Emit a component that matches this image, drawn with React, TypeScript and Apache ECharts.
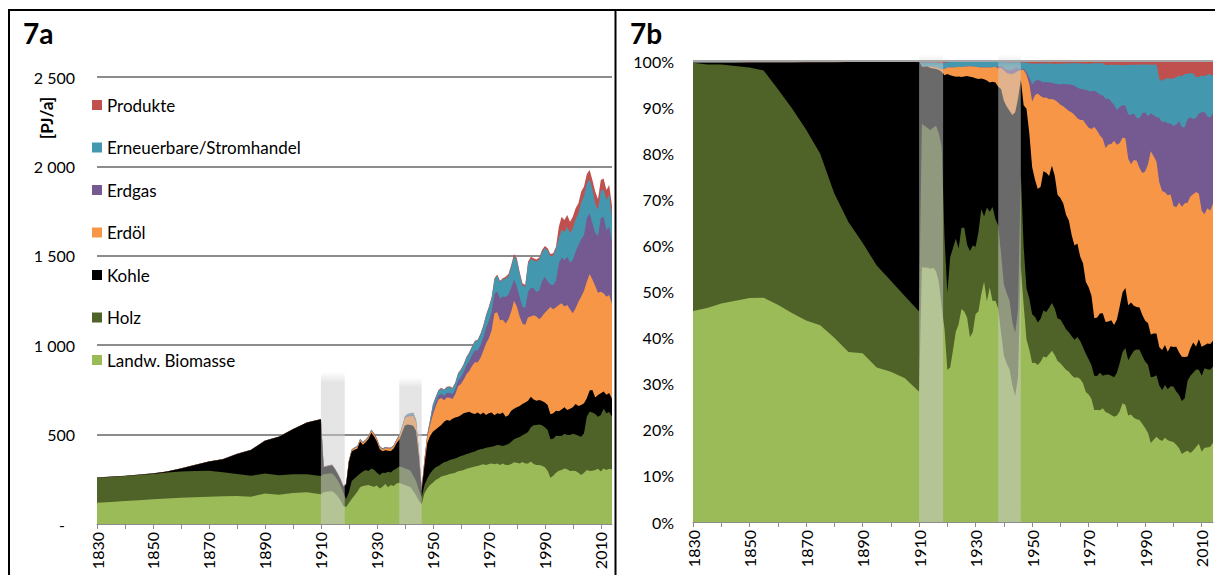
import React, { useEffect, useRef } from 'react';
import * as echarts from 'echarts';

// ---------- data (PJ/a) ----------
const EARLY_YEARS = [1830, 1835, 1840, 1845, 1850, 1855, 1860, 1865, 1870, 1875, 1880, 1885, 1890, 1895, 1900, 1905, 1910];
const YEARLY: number[] = [];
for (let y = 1911; y <= 2014; y++) YEARLY.push(y);
const YEARS = [...EARLY_YEARS, ...YEARLY];

const TICK_YEARS = [1830, 1840, 1850, 1860, 1870, 1880, 1890, 1900, 1910, 1920, 1930, 1940, 1950, 1960, 1970, 1980, 1990, 2000, 2010];
const LABEL_YEARS = [1830, 1850, 1870, 1890, 1910, 1930, 1950, 1970, 1990, 2010];
const Y_TICKS_ABS = [0, 500, 1000, 1500, 2000, 2500];

const LANDW = [
  119, 123, 128, 133, 138, 143, 147, 150, 153, 155, 157, 153, 171, 164, 173, 177, 166,
  178, 180, 182, 183, 172, 155, 132, 100,
  95, 118, 140, 160, 180, 205, 212, 216, 218, 212, 209, 216, 199, 209, 224, 205, 218, 212, 227, 231,
  224, 218, 212, 205, 185, 160, 130, 110,
  172, 199, 218, 231,
  246, 255, 265, 270, 274, 280, 283, 287, 295, 298, 302, 309, 313, 317, 321, 324, 330, 334, 330, 336, 339, 334, 339, 330, 339,
  330, 330, 336, 345, 343, 339, 347, 339, 339, 349, 336, 330, 330, 326, 317, 298, 259, 270, 287, 298, 302, 311, 306, 296, 298, 296, 287, 274, 287, 302, 296, 298, 302, 309, 293, 311, 302, 309, 306,
];
const HOLZ = [
  140, 140, 140, 141, 142, 145, 146, 147, 145, 135, 123, 117, 112, 108, 105, 101, 102,
  100, 100, 100, 100, 95, 90, 82, 75,
  45, 60, 100, 95, 88, 78, 81, 86, 78, 99, 95, 70, 75, 78, 61, 87, 70, 90, 84, 90,
  93, 93, 94, 93, 85, 80, 60, 40,
  46, 56, 65, 71,
  71, 69, 71, 75, 76, 78, 79, 80, 78, 82, 82, 82, 82, 84, 84, 90, 88, 87, 97, 93, 93, 102, 103, 110, 97,
  112, 117, 124, 129, 138, 148, 149, 166, 176, 192, 216, 224, 227, 226, 224, 228, 215, 207, 207, 194, 190, 194, 192, 202, 207, 204, 207, 214, 220, 298, 332, 325, 313, 291, 317, 334, 317, 317, 294,
];
const KOHLE = [
  0, 1, 1, 2, 3, 5, 18, 33, 51, 72, 112, 144, 183, 216, 252, 289, 318,
  40, 42, 44, 45, 40, 35, 35, 35,
  80, 170, 165, 160, 153, 178, 150, 155, 180, 200, 185, 175, 145, 120, 128, 118, 120, 120, 140, 150,
  195, 240, 250, 255, 280, 280, 190, 40,
  112, 196, 209, 214,
  212, 217, 218, 227, 232, 220, 227, 228, 227, 228, 235, 232, 233, 218, 210, 209, 195, 202, 183, 190, 191, 172, 177, 175, 187,
  158, 161, 174, 171, 172, 173, 175, 174, 175, 171, 145, 136, 137, 136, 138, 140, 140, 142, 140, 138, 149, 148, 140, 147, 148, 171, 166, 178, 168, 103, 118, 126, 93, 121, 121, 96, 104, 106, 100,
];
const ERDOEL = [
  0, 0, 0, 0, 0, 0, 0, 0, 0, 0, 0, 0, 0, 0, 0, 0, 0,
  0, 0, 0, 1, 1, 1, 1, 1,
  3, 5, 7, 8, 9, 10, 10, 10, 10, 12, 12, 12, 11, 10, 11, 12, 14, 14, 16, 20,
  25, 40, 45, 50, 55, 50, 25, 4,
  28, 37, 62, 95,
  130, 155, 150, 120, 125, 128, 110, 130, 170, 175, 188, 215, 228, 265, 290, 280, 315, 345, 400, 420, 460, 570, 565, 525, 520,
  522, 537, 554, 604, 563, 500, 451, 434, 466, 448, 470, 470, 451, 472, 503, 531, 600, 582, 578, 595, 593, 563, 587, 556, 525, 535, 583, 605, 630, 652, 652, 619, 623, 573, 568, 549, 548, 549, 530,
];
const ERDGAS = [
  0, 0, 0, 0, 0, 0, 0, 0, 0, 0, 0, 0, 0, 0, 0, 0, 0,
  0, 0, 0, 0, 0, 0, 0, 0,
  0, 0, 0, 0, 0, 0, 0, 0, 0, 0, 0, 0, 0, 0, 0, 0, 0, 0, 0, 2,
  2, 3, 4, 5, 6, 6, 3, 0,
  1, 3, 8, 25,
  22, 22, 25, 25, 26, 28, 27, 28, 33, 38, 44, 50, 55, 60, 65, 68, 72, 74, 87, 97, 104, 108, 116, 121, 129,
  147, 139, 133, 117, 112, 110, 95, 95, 141, 161, 150, 137, 161, 198, 200, 160, 125, 135, 150, 233, 257, 261, 270, 261, 299, 317, 317, 321, 311, 355, 340, 314, 298, 317, 411, 429, 373, 382, 350,
];
const ERNEUERBARE = [
  1, 1, 1, 1, 1, 1, 1, 1, 1, 1, 1, 1, 1, 1, 1, 1, 1,
  3, 3, 3, 3, 3, 3, 3, 3,
  3, 4, 5, 5, 5, 5, 5, 5, 5, 5, 5, 5, 5, 5, 5, 5, 5, 5, 5, 5,
  5, 8, 10, 10, 10, 8, 5, 3,
  5, 10, 18, 30,
  27, 27, 29, 31, 31, 32, 32, 34, 37, 39, 39, 42, 44, 46, 50, 55, 58, 62, 66, 72, 76, 82, 88, 92, 96,
  102, 102, 116, 132, 146, 129, 117, 117, 158, 162, 157, 171, 173, 162, 161, 173, 159, 166, 177, 140, 153, 158, 168, 164, 177, 181, 178, 205, 218, 192, 190, 190, 164, 145, 154, 150, 168, 180, 140,
];
const PRODUKTE = [
  0, 0, 0, 0, 0, 0, 0, 0, 0, 0, 0, 0, 0, 0, 0, 0, 0,
  1, 1, 1, 1, 1, 1, 1, 1,
  1, 1, 1, 1, 1, 1, 1, 1, 1, 1, 1, 1, 1, 1, 1, 1, 1, 1, 1, 1,
  1, 1, 2, 2, 2, 1, 1, 1,
  1, 2, 3, 4,
  4, 4, 4, 4, 4, 4, 4, 5, 5, 5, 5, 5, 5, 5, 5, 5, 6, 6, 7, 7, 7, 7, 7, 7, 7,
  12, 12, 12, 12, 12, 12, 12, 12, 12, 12, 12, 12, 12, 12, 12, 12, 12, 12, 12, 65, 75, 65, 65, 65, 65, 62, 56, 62, 53, 55, 52, 52, 66, 62, 60, 64, 56, 53, 60,
];

// war periods (shaded)
const WAR_PERIODS = [
  [1910, 1918.5],
  [1938, 1946],
];
const WAR_TOP_ABS = [850, 820];

// bottom -> top
const SERIES_NAMES = ['Landw. Biomasse', 'Holz', 'Kohle', 'Erdöl', 'Erdgas', 'Erneuerbare/Stromhandel', 'Produkte'];
const SERIES_VALUES = [LANDW, HOLZ, KOHLE, ERDOEL, ERDGAS, ERNEUERBARE, PRODUKTE];
const COLORS = ['#9BBB59', '#4F6228', '#000000', '#F79646', '#755A91', '#4398AF', '#C0504D'];

const FONT = 'Lato, "Noto Sans", "DejaVu Sans", sans-serif';

function fmtAbs(v: number): string {
  if (v === 0) return '{d|-}';
  if (v >= 1000) return `${Math.floor(v / 1000)} ${String(v % 1000).padStart(3, '0')}`;
  return String(v);
}

export default function App() {
  const ref = useRef<HTMLDivElement>(null);
  useEffect(() => {
    if (!ref.current) return;
    const chart = echarts.init(ref.current, undefined, { renderer: 'svg' });

    const n = YEARS.length;
    const totals = YEARS.map((_, i) => SERIES_VALUES.reduce((s, arr) => s + arr[i], 0));
    // cumulative tops (stacked from the bottom)
    const cumAbs: number[][] = [];
    const cumShare: number[][] = [];
    SERIES_VALUES.forEach((arr, k) => {
      const a: number[] = [];
      const s: number[] = [];
      for (let i = 0; i < n; i++) {
        const prev = k > 0 ? cumAbs[k - 1][i] : 0;
        a.push(prev + arr[i]);
        s.push(((prev + arr[i]) / totals[i]) * 100);
      }
      cumAbs.push(a);
      cumShare.push(s);
    });

    const barFill = new echarts.graphic.LinearGradient(0, 0, 0, 1, [
      { offset: 0, color: 'rgba(204,204,204,0)' },
      { offset: 0.07, color: 'rgba(204,204,204,0.52)' },
      { offset: 1, color: 'rgba(204,204,204,0.52)' },
    ]);
    const barFillR = new echarts.graphic.LinearGradient(0, 0, 0, 1, [
      { offset: 0, color: 'rgba(204,204,204,0)' },
      { offset: 0.025, color: 'rgba(204,204,204,0.52)' },
      { offset: 1, color: 'rgba(204,204,204,0.52)' },
    ]);

    const renderBar = (fill: any) => (params: any, api: any) => {
      const x0 = api.value(0);
      const x1 = api.value(1);
      const top = api.value(2);
      const p0 = api.coord([x0, top]);
      const p1 = api.coord([x1, 0]);
      return {
        type: 'rect',
        shape: { x: p0[0], y: p0[1], width: p1[0] - p0[0], height: p1[1] - p0[1] },
        style: { fill },
      };
    };

    // draw top-most cumulative first so lower layers paint over it
    const order = SERIES_NAMES.map((_, k) => SERIES_NAMES.length - 1 - k);

    const makeSeries = (cum: number[][], axis: number) =>
      order.map((k, j) => ({
        name: SERIES_NAMES[k],
        type: 'line',
        xAxisIndex: axis,
        yAxisIndex: axis,
        symbol: 'none',
        showSymbol: false,
        silent: true,
        z: 2 + j * 0.01,
        lineStyle: { width: 0 },
        itemStyle: { color: COLORS[k] },
        areaStyle: { color: COLORS[k], opacity: 1, origin: 'start' },
        data: YEARS.map((y, i) => [y, cum[k][i]]),
      }));

    const absSeries = makeSeries(cumAbs, 0);
    const shareSeries: any[] = makeSeries(cumShare, 1);
    shareSeries[shareSeries.length - 1] = {
      ...shareSeries[shareSeries.length - 1],
      markLine: {
        silent: true,
        symbol: 'none',
        label: { show: false },
        lineStyle: { color: '#a6a6a6', width: 2, type: 'solid' },
        data: [{ yAxis: 100 }],
        z: 20,
      },
    };

    const xAxisBase = (gridIndex: number) => ({
      type: 'value',
      gridIndex,
      min: 1830,
      max: 2014,
      interval: 10,
      axisLine: { show: true, lineStyle: { color: '#8c8c8c', width: 1 } },
      axisTick: { show: true, customValues: TICK_YEARS, length: 5, lineStyle: { color: '#8c8c8c' } },
      axisLabel: {
        customValues: LABEL_YEARS,
        formatter: (v: number) => String(v),
        rotate: 90,
        margin: 8,
        fontSize: 16,
        color: '#000',
        fontFamily: FONT,
      },
      splitLine: { show: false },
    });

    chart.setOption({
      animation: false,
      backgroundColor: '#fff',
      grid: [
        { left: 97, top: 77, width: 515, height: 447 },
        { left: 693, top: 61, width: 520, height: 461 },
      ],
      xAxis: [xAxisBase(0), xAxisBase(1)],
      yAxis: [
        {
          type: 'value',
          gridIndex: 0,
          min: 0,
          max: 2500,
          interval: 500,
          axisLine: { show: false },
          axisTick: { show: false },
          splitLine: { show: true, lineStyle: { color: '#8c8c8c', width: 2 } },
          axisLabel: {
            customValues: Y_TICKS_ABS,
            formatter: fmtAbs,
            margin: 22,
            fontSize: 16,
            color: '#000',
            fontFamily: FONT,
            rich: { d: { fontSize: 16, fontFamily: FONT, color: '#000', padding: [0, 10, 0, 0] } },
          },
        },
        {
          type: 'value',
          gridIndex: 1,
          min: 0,
          max: 100,
          interval: 10,
          axisLine: { show: false },
          axisTick: { show: false },
          splitLine: { show: false },
          axisLabel: {
            formatter: (v: number) => `${v}%`,
            margin: 19,
            fontSize: 16,
            color: '#000',
            fontFamily: FONT,
          },
        },
      ],
      legend: {
        orient: 'vertical',
        left: 92,
        top: 95,
        padding: 0,
        itemWidth: 10,
        itemHeight: 10,
        itemGap: 22.5,
        icon: 'rect',
        selectedMode: false,
        textStyle: { fontSize: 17, fontFamily: FONT, color: '#000', lineHeight: 20 },
        data: ['Produkte', 'Erneuerbare/Stromhandel', 'Erdgas', 'Erdöl', 'Kohle', 'Holz', 'Landw. Biomasse'],
      },
      graphic: [
        { type: 'line', shape: { x1: 8, y1: 10, x2: 1215, y2: 10 }, style: { stroke: '#000', lineWidth: 2 }, z: 100 },
        { type: 'line', shape: { x1: 9, y1: 9, x2: 9, y2: 575 }, style: { stroke: '#000', lineWidth: 2 }, z: 100 },
        { type: 'line', shape: { x1: 615.5, y1: 9, x2: 615.5, y2: 575 }, style: { stroke: '#000', lineWidth: 2 }, z: 100 },
        { type: 'text', left: 23, top: 19, style: { text: '7a', font: `bold 28px ${FONT}`, fill: '#000' } },
        { type: 'text', left: 630, top: 19, style: { text: '7b', font: `bold 28px ${FONT}`, fill: '#000' } },
        {
          type: 'text',
          x: 46,
          y: 118,
          rotation: Math.PI / 2,
          style: { text: '[PJ/a]', font: `bold 17px ${FONT}`, fill: '#000', align: 'center', verticalAlign: 'middle' },
        },
      ],
      series: [
        ...absSeries,
        ...shareSeries,
        {
          type: 'custom',
          xAxisIndex: 0,
          yAxisIndex: 0,
          silent: true,
          z: 10,
          renderItem: renderBar(barFill),
          encode: { x: [0, 1], y: 2 },
          data: WAR_PERIODS.map((p, i) => [p[0], p[1], WAR_TOP_ABS[i]]),
        },
        {
          type: 'custom',
          xAxisIndex: 1,
          yAxisIndex: 1,
          silent: true,
          z: 10,
          clip: false,
          renderItem: renderBar(barFillR),
          encode: { x: [0, 1], y: 2 },
          data: WAR_PERIODS.map((p) => [p[0], p[1], 101.5]),
        },
      ],
    });

    return () => chart.dispose();
  }, []);

  return (
    <div
      ref={ref}
      style={{ position: 'fixed', left: 0, top: 0, width: 1215, height: 575, background: '#fff' }}
    />
  );
}
